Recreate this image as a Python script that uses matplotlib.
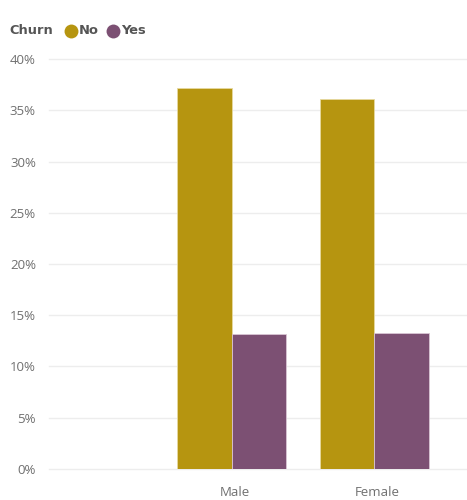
import matplotlib
matplotlib.use("Agg")
import matplotlib.pyplot as plt
import numpy as np

# Share of customers by gender and churn status (%)
genders = ["Male", "Female"]
churn_no = [37.17, 36.09]
churn_yes = [13.13, 13.29]
y_ticks = [0, 5, 10, 15, 20, 25, 30, 35, 40]
y_tick_labels = [f"{v}%" for v in y_ticks]

gold = "#B69510"
plum = "#7C5073"
grid_col = "#EDEDED"
tick_col = "#707070"

plt.rcParams["font.family"] = ["Open Sans", "DejaVu Sans"]

fig = plt.figure(figsize=(4.67, 5.0), dpi=100)
ax = fig.add_axes([0.105, 0.0626, 0.895, 0.8188])

x = np.arange(len(genders))
w = 0.38
ax.bar(x - w / 2, churn_no, width=w, color=gold, edgecolor="#E6D9A0",
       linewidth=0.6, zorder=3)
ax.bar(x + w / 2, churn_yes, width=w, color=plum, edgecolor="#D9C5D4",
       linewidth=0.6, zorder=3)

ax.set_xlim(-1.278, 1.649)
ax.set_ylim(0, 40)
ax.set_yticks(y_ticks)
ax.set_yticklabels(y_tick_labels)
ax.set_xticks(x + 0.02)
ax.set_xticklabels(genders)

ax.yaxis.grid(True, color=grid_col, linewidth=1.0, zorder=0)
ax.set_axisbelow(True)
for s in ax.spines.values():
    s.set_visible(False)
ax.tick_params(axis="y", length=0, pad=9.5, labelsize=9.5, labelcolor=tick_col)
ax.tick_params(axis="x", length=0, pad=12.5, labelsize=9.5, labelcolor=tick_col)
for gl in ax.get_ygridlines():
    gl.set_clip_on(False)

# Legend header row
legend_font = dict(fontsize=9.4, fontweight="bold", family="DejaVu Sans",
                   color="#555555", va="center", ha="left")
fig.text(9 / 467, 1 - 31 / 500, "Churn", **legend_font)
fig.text(79 / 467, 1 - 31 / 500, "No", **legend_font)
fig.text(121 / 467, 1 - 31 / 500, "Yes", **legend_font)
lax = fig.add_axes([0, 0, 1, 1], facecolor="none")
lax.set_xlim(0, 467)
lax.set_ylim(500, 0)
lax.axis("off")
lax.scatter([71], [31], s=100, color=gold, linewidths=0)
lax.scatter([113], [31], s=100, color=plum, linewidths=0)

fig.savefig("out.png", dpi=100, facecolor="white")
